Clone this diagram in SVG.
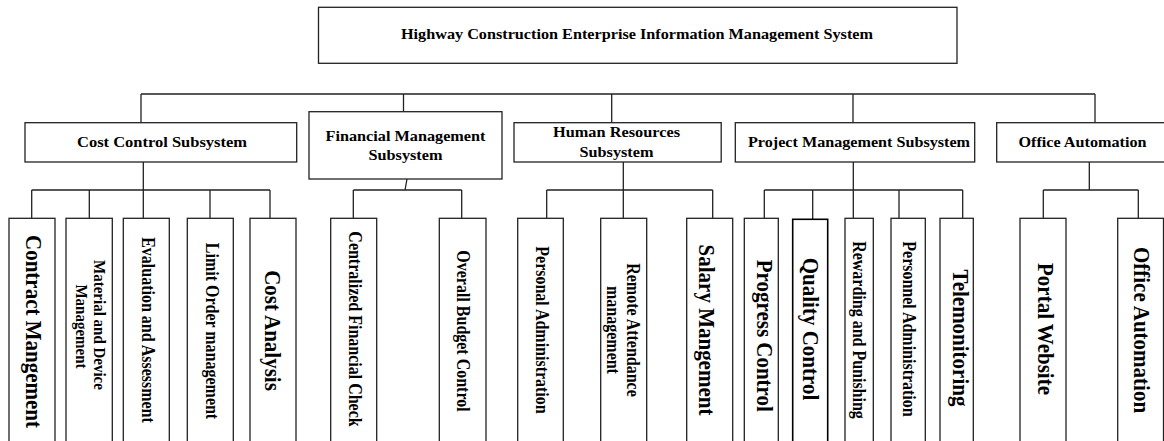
<svg xmlns="http://www.w3.org/2000/svg" width="1164" height="441" viewBox="0 0 1164 441">
<style>
.box{fill:#fff;stroke:#222;stroke-width:1.3}
.ln{fill:none;stroke:#222;stroke-width:1.3}
text{font-family:"Liberation Serif","Times New Roman",serif;font-weight:bold;fill:#000}
.h{font-size:15px;text-anchor:middle}
.v{text-anchor:middle;dominant-baseline:central}
.s{font-size:16px}
.m{font-size:15px}
.l{font-size:21px}
</style>
<rect width="1164" height="441" fill="#fff"/>
<g id="connectors">
<path class="ln" d="M141,94H1095M141,94V122.7M403.5,94V111.7M611.7,94V122.7M853,94V122.7M1095,94V122.7"/>
<path class="ln" d="M31.7,190H270M31.7,190V218.3M89.3,190V218.3M143.3,162V218.3M210,190V218.3M270,190V218.3"/>
<path class="ln" d="M407,179L405,190M353.3,190H461.7M353.3,190V218.3M461.7,190V218.3"/>
<path class="ln" d="M546.7,190H712.7M546.7,190V218.3M623.3,162V218.3M712.7,190V218.3"/>
<path class="ln" d="M764.3,190H962.7M764.3,190V218.3M812.7,190V219.3M853.3,162V218.3M899,190V218.3M962.7,190V218.3"/>
<path class="ln" d="M1089.3,162V190M1043.3,190H1138.3M1043.3,190V218.3M1138.3,190V218.3"/>
</g>
<g id="root"><rect class="box" x="318.5" y="7.3" width="638.5" height="56"/><text class="h" x="637" y="38.8" textLength="472" lengthAdjust="spacingAndGlyphs">Highway Construction Enterprise Information Management System</text></g>
<g id="cost"><rect class="box" x="25" y="122.7" width="271.7" height="39.3"/><text class="h" x="162" y="147" textLength="170" lengthAdjust="spacingAndGlyphs">Cost Control Subsystem</text></g>
<g id="fin"><rect class="box" x="309" y="111.7" width="193" height="67.3"/><text class="h" x="405.5" y="140.5" textLength="160" lengthAdjust="spacingAndGlyphs">Financial Management</text><text class="h" x="405.5" y="160" textLength="74" lengthAdjust="spacingAndGlyphs">Subsystem</text></g>
<g id="hr"><rect class="box" x="514" y="122.7" width="207.2" height="39.3"/><text class="h" x="616.5" y="137.2" textLength="127" lengthAdjust="spacingAndGlyphs">Human Resources</text><text class="h" x="616.5" y="157.2" textLength="74" lengthAdjust="spacingAndGlyphs">Subsystem</text></g>
<g id="pm"><rect class="box" x="735.3" y="122.7" width="239.4" height="39.3"/><text class="h" x="859" y="147.2" textLength="222" lengthAdjust="spacingAndGlyphs">Project Management Subsystem</text></g>
<g id="oa"><rect class="box" x="996.7" y="122.7" width="180" height="39.3"/><text class="h" x="1082.5" y="146.8" textLength="128" lengthAdjust="spacingAndGlyphs">Office Automation</text></g>

<g id="leaf-contract"><rect class="box" x="9" y="218.3" width="46" height="240"/><text class="v l" transform="translate(34,331.5) scale(1.12,1) rotate(90)">Contract Mangement</text></g>
<g id="leaf-material"><rect class="box" x="66" y="218.3" width="46.3" height="240"/><text class="v m" transform="translate(100,325) scale(1.12,1) rotate(90)">Material and Device</text><text class="v m" transform="translate(81.7,326.5) scale(1.12,1) rotate(90)">Management</text></g>
<g id="leaf-evaluation"><rect class="box" x="123.3" y="218.3" width="46" height="240"/><text class="v s" transform="translate(147.5,330) scale(1.12,1) rotate(90)">Evaluation and Assessment</text></g>
<g id="leaf-limit"><rect class="box" x="187.3" y="218.3" width="46" height="240"/><text class="v s" transform="translate(211.7,331) scale(1.12,1) rotate(90)">Limit Order management</text></g>
<g id="leaf-costanalysis"><rect class="box" x="250" y="218.3" width="46" height="240"/><text class="v l" transform="translate(273.3,330.5) scale(1.12,1) rotate(90)">Cost Analysis</text></g>

<g id="leaf-centralized"><rect class="box" x="330.7" y="218.3" width="46" height="240"/><text class="v s" transform="translate(355,329) scale(1.12,1) rotate(90)">Centralized Financial Check</text></g>
<g id="leaf-budget"><rect class="box" x="439.3" y="218.3" width="46.7" height="240"/><text class="v s" transform="translate(463.3,331) scale(1.12,1) rotate(90)">Overall Budget Control</text></g>

<g id="leaf-personal"><rect class="box" x="517.7" y="218.3" width="45.6" height="240"/><text class="v s" transform="translate(541.7,330) scale(1.12,1) rotate(90)">Personal Administration</text></g>
<g id="leaf-remote"><rect class="box" x="600.7" y="218.3" width="46" height="240"/><text class="v s" transform="translate(633.3,330) scale(1.12,1) rotate(90)">Remote Attendance</text><text class="v s" transform="translate(613.3,330) scale(1.12,1) rotate(90)">management</text></g>
<g id="leaf-salary"><rect class="box" x="686.7" y="218.3" width="46" height="240"/><text class="v l" transform="translate(706.7,330) scale(1.12,1) rotate(90)">Salary Mangement</text></g>

<g id="leaf-progress"><rect class="box" x="744.3" y="218.3" width="34" height="240"/><text class="v l" transform="translate(765,335.8) scale(1.12,1) rotate(90)">Progress Control</text></g>
<g id="leaf-quality"><rect class="box" x="792.7" y="219.3" width="35" height="240" style="stroke:#000;stroke-width:1.6"/><text class="v l" transform="translate(810.7,329) scale(1.12,1) rotate(90)">Quality Control</text></g>
<g id="leaf-rewarding"><rect class="box" x="845" y="218.3" width="28.3" height="240"/><text class="v s" transform="translate(858.5,330) scale(1.12,1) rotate(90)">Rewarding and Punishing</text></g>
<g id="leaf-personnel"><rect class="box" x="891" y="218.3" width="34.3" height="240"/><text class="v s" transform="translate(909,329) scale(1.12,1) rotate(90)">Personnel Administration</text></g>
<g id="leaf-telemonitoring"><rect class="box" x="940" y="218.3" width="33.3" height="240"/><text class="v l" transform="translate(960.7,338) scale(1.12,1) rotate(90)">Telemonitoring</text></g>

<g id="leaf-portal"><rect class="box" x="1020" y="218.3" width="46" height="240"/><text class="v l" transform="translate(1046,329) scale(1.12,1) rotate(90)">Portal Website</text></g>
<g id="leaf-officeauto"><rect class="box" x="1117.7" y="218.3" width="45.8" height="240"/><text class="v l" transform="translate(1142.3,330) scale(1.12,1) rotate(90)">Office Automation</text></g>
</svg>
